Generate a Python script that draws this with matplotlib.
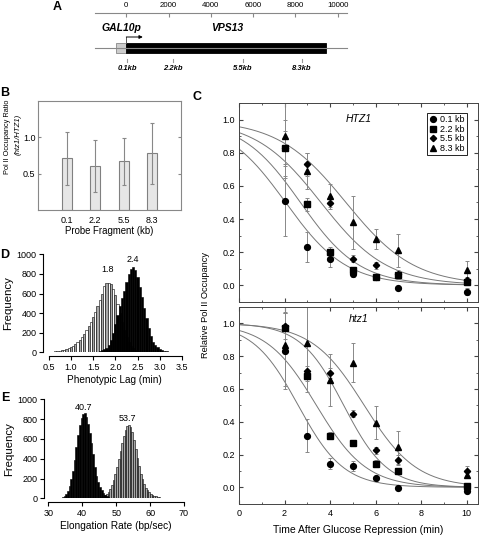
import matplotlib
matplotlib.use("Agg")
import matplotlib.pyplot as plt
import numpy as np
from matplotlib.patches import Rectangle

plt.rcParams["font.family"] = ["Liberation Sans", "DejaVu Sans"]

# =========================
# Hardcoded data
# =========================

# A: gene map (bp)
ruler_ticks = [0, 2000, 4000, 6000, 8000, 10000]
promoter_start = -500
gene_end = 9450
probe_pos = [50, 2200, 5500, 8300]
probe_labels = ["0.1kb", "2.2kb", "5.5kb", "8.3kb"]

# B: Pol II occupancy ratio
fragments = ["0.1", "2.2", "5.5", "8.3"]
ratio = [0.71, 0.61, 0.67, 0.78]
ratio_err = [0.36, 0.36, 0.32, 0.42]

# C: relative Pol II occupancy time courses
times = [2, 3, 4, 5, 6, 7, 10]
series_labels = ["0.1 kb", "2.2 kb", "5.5 kb", "8.3 kb"]

htz1_wt = [
    [0.51, 0.23, 0.16, 0.07, 0.05, -0.02, -0.04],
    [0.83, 0.49, 0.20, 0.09, 0.05, 0.06, 0.02],
    [0.83, 0.73, 0.50, 0.16, 0.12, 0.07, 0.03],
    [0.90, 0.69, 0.54, 0.38, 0.28, 0.21, 0.09],
]
htz1_wt_err = [
    [0.21, 0.09, 0.05, 0.02, 0.02, 0.01, 0.02],
    [0.17, 0.04, 0.03, 0.02, 0.01, 0.02, 0.01],
    [0.10, 0.07, 0.04, 0.02, 0.02, 0.02, 0.02],
    [0.25, 0.11, 0.07, 0.16, 0.06, 0.10, 0.055],
]
htz1_mut = [
    [0.83, 0.315, 0.145, 0.13, 0.055, -0.005, -0.02],
    [0.97, 0.68, 0.315, 0.27, 0.145, 0.10, 0.01],
    [0.985, 0.71, 0.695, 0.45, 0.225, 0.165, 0.10],
    [0.865, 0.88, 0.655, 0.76, 0.395, 0.245, 0.075],
]
htz1_mut_err = [
    [0.23, 0.10, 0.033, 0.03, 0.01, 0.01, 0.01],
    [0.10, 0.03, 0.02, 0.02, 0.02, 0.02, 0.01],
    [0.08, 0.03, 0.03, 0.02, 0.02, 0.03, 0.03],
    [0.25, 0.30, 0.16, 0.12, 0.10, 0.10, 0.02],
]
# fitted sigmoid parameters (midpoint, width)
fit_wt_mid = [2.05, 2.7, 3.6, 4.7]
fit_wt_width = [1.33, 1.3, 1.45, 1.5]
fit_mut_mid = [2.6, 3.4, 4.6, 5.5]
fit_mut_width = [1.0, 1.1, 0.95, 1.15]

# D: phenotypic lag bootstrap histograms (bin width 0.05)
lag_bin = 0.05
lag_wt_start = 0.425
lag_wt_counts = [3, 4, 5, 7, 9, 12, 16, 22, 28, 35, 42, 55, 68, 85, 105, 130,
                 160, 190, 225, 265, 310, 360, 410, 470, 530, 600, 680, 710,
                 710, 700, 650, 580, 490, 400, 310, 230, 160, 105, 65, 40, 22, 12]
lag_mut_start = 1.475
lag_mut_counts = [3, 5, 8, 12, 20, 30, 45, 70, 130, 200, 290, 380, 470, 550,
                  630, 720, 800, 850, 870, 840, 770, 670, 560, 450, 350, 250,
                  165, 110, 75, 50, 35, 22, 15, 9, 5, 2]
lag_peaks = ["1.8", "2.4"]

# E: elongation rate bootstrap histograms (bin width 0.5)
rate_bin = 0.5
rate_mut_start = 32.0
rate_mut_counts = [2, 3, 5, 8, 15, 25, 45, 75, 120, 190, 280, 390, 520, 640,
                   740, 810, 850, 860, 820, 750, 660, 560, 450, 320, 230, 160,
                   110, 80, 55, 35, 22, 14, 8, 5, 3, 2]
rate_wt_start = 44.0
rate_wt_counts = [3, 5, 8, 12, 20, 30, 45, 65, 95, 135, 185, 245, 320, 400,
                  480, 560, 630, 690, 730, 740, 720, 670, 590, 500, 410, 325,
                  250, 190, 140, 105, 80, 60, 45, 35, 26, 20, 15, 11, 8, 6,
                  5, 4, 3, 2, 2, 1, 1, 1]
rate_peaks = ["40.7", "53.7"]

# =========================
# Plot
# =========================

W, H = 481, 537
fig = plt.figure(figsize=(W / 100, H / 100), dpi=100)


def px_axes(left, top, right, bottom):
    return fig.add_axes([left / W, 1 - bottom / H, (right - left) / W, (bottom - top) / H])


TICK_FS = 6.5
LABEL_FS = 7.3

# ---- panel A ----
axA = px_axes(95, 13, 347, 75)
axA.set_xlim(-1481, 10440)
axA.set_ylim(75, 13)
for s in ["left", "right", "bottom"]:
    axA.spines[s].set_visible(False)
axA.spines["top"].set_color("#888888")
axA.spines["top"].set_linewidth(0.8)
axA.xaxis.tick_top()
axA.set_xticks(ruler_ticks)
axA.tick_params(axis="x", direction="in", length=3, color="#888888", labelsize=5.7, pad=3)
axA.set_yticks([])
axA.patch.set_visible(False)

axA.plot([-1481, 10440], [48, 48], color="#888888", lw=0.8, clip_on=False)
axA.add_patch(Rectangle((promoter_start, 42.7), -promoter_start, 10.3,
                        facecolor="#cccccc", edgecolor="#888888", lw=0.6))
axA.add_patch(Rectangle((0, 42.7), gene_end, 10.3, facecolor="black", edgecolor="black", lw=0.6))
axA.plot([0, 0], [42.7, 37], color="#555555", lw=0.7)
axA.annotate("", xy=(780, 37), xytext=(0, 37),
             arrowprops=dict(arrowstyle="-|>", color="black", lw=0.7,
                             mutation_scale=5, shrinkA=0, shrinkB=0))
axA.text(-220, 28, "GAL10p", ha="center", va="center", fontsize=7.5,
         style="italic", weight="bold")
axA.text(4750, 28, "VPS13", ha="center", va="center", fontsize=7.5,
         style="italic", weight="bold")
for p, lab in zip(probe_pos, probe_labels):
    axA.plot([p, p], [58.5, 61.5], color="#999999", lw=0.8)
    axA.text(p, 69, lab, ha="center", va="center", fontsize=5.5,
             style="italic", weight="bold")

# ---- panel B ----
axB = px_axes(38.3, 101, 180.7, 210)
xb = np.arange(1, len(fragments) + 1)
axB.bar(xb, ratio, width=0.35, color="#e6e6e6", edgecolor="#808080", lw=0.8, zorder=2)
axB.errorbar(xb, ratio, yerr=ratio_err, fmt="none", ecolor="#888888",
             elinewidth=0.8, capsize=1.2, capthick=0.8, zorder=3)
axB.set_xlim(0, 5)
axB.set_ylim(0, 1.5)
axB.set_xticks(xb)
axB.set_xticklabels(fragments)
axB.set_yticks([0.5, 1.0])
axB.tick_params(axis="y", direction="in", length=2.5, color="#888888",
                labelsize=TICK_FS, right=True, pad=2)
axB.tick_params(axis="x", length=0, labelsize=TICK_FS, pad=4)
for s in axB.spines.values():
    s.set_color("#888888")
    s.set_linewidth(0.8)
axB.set_xlabel("Probe Fragment (kb)", fontsize=6.9, labelpad=1)
fig.text(8 / W, 1 - 137 / H, "Pol II Occupancy Ratio", rotation=90,
         ha="center", va="center", fontsize=5.3)
fig.text(18 / W, 1 - 134 / H, "(htz1/HTZ1)", rotation=90,
         ha="center", va="center", fontsize=5.6, style="italic")

# ---- panel C ----
markers = ["o", "s", "D", "^"]
msizes = [4.2, 3.8, 3.2, 4.3]
tfit = np.linspace(0, 10, 200)


def panel_c(ax, data, errs, mids, widths, title, title_y, show_x):
    for m, w in zip(mids, widths):
        ax.plot(tfit, 1 / (1 + np.exp((tfit - m) / w)), color="#777777", lw=0.7, zorder=1)
    for vals, err in zip(data, errs):
        ax.errorbar(times, vals, yerr=err, fmt="none", ecolor="#888888",
                    elinewidth=0.7, capsize=1.5, capthick=0.7, zorder=2)
    for vals, mk, ms, lab in zip(data, markers, msizes, series_labels):
        ax.plot(times, vals, mk, color="black", ms=ms, ls="none", label=lab, zorder=3)
    ax.set_xlim(0, 10.5)
    ax.set_ylim(-0.1, 1.1)
    ax.set_xticks([0, 2, 4, 6, 8, 10])
    ax.set_xticks(np.arange(1, 11, 2), minor=True)
    ax.set_yticks([0.0, 0.2, 0.4, 0.6, 0.8, 1.0])
    ax.set_yticks(np.arange(-0.1, 1.11, 0.2), minor=True)
    ax.tick_params(which="both", direction="in", top=True, right=True,
                   labelsize=TICK_FS, color="#444444")
    ax.tick_params(which="major", length=3)
    ax.tick_params(which="minor", length=1.5)
    ax.tick_params(axis="y", pad=3)
    if not show_x:
        ax.tick_params(axis="x", labelbottom=False)
    for s in ax.spines.values():
        s.set_color("#444444")
        s.set_linewidth(0.7)
    ax.text(5.25, title_y, title, ha="center", va="center", fontsize=7.5, style="italic")


axC1 = px_axes(239, 103.3, 478, 301.7)
panel_c(axC1, htz1_wt, htz1_wt_err, fit_wt_mid, fit_wt_width, "HTZ1", 1.005, False)
axC1.legend(loc="upper right", bbox_to_anchor=(0.955, 0.95), borderaxespad=0,
            fontsize=TICK_FS, frameon=True, fancybox=False, edgecolor="black",
            framealpha=1, handlelength=0.8, handletextpad=0.4, labelspacing=0.05,
            borderpad=0.25, numpoints=1).get_frame().set_linewidth(0.6)

axC2 = px_axes(239, 306.9, 478, 503.7)
panel_c(axC2, htz1_mut, htz1_mut_err, fit_mut_mid, fit_mut_width, "htz1", 1.024, True)
axC2.set_xlabel("Time After Glucose Repression (min)", fontsize=7.5, labelpad=5)
fig.text(206 / W, 1 - 305 / H, "Relative Pol II Occupancy", rotation=90,
         ha="center", va="center", fontsize=6.7)


# ---- panels D and E ----
def r_style(ax, xb_lo, xb_hi, xticks):
    for s in ["top", "right"]:
        ax.spines[s].set_visible(False)
    ax.spines["bottom"].set_position(("outward", 3))
    ax.spines["bottom"].set_bounds(xb_lo, xb_hi)
    ax.spines["left"].set_bounds(0, 1000)
    ax.set_xticks(xticks)
    ax.set_yticks([0, 200, 400, 600, 800, 1000])
    ax.tick_params(direction="out", length=3, labelsize=TICK_FS, pad=2, width=0.8)
    for s in ["bottom", "left"]:
        ax.spines[s].set_linewidth(0.8)
    ax.set_ylabel("Frequency", fontsize=8.2, labelpad=2)
    ax.patch.set_visible(False)


axD = px_axes(43.3, 254.3, 186, 352.3)
wt_edges = lag_wt_start + lag_bin * np.arange(len(lag_wt_counts))
mut_edges = lag_mut_start + lag_bin * np.arange(len(lag_mut_counts))
stripe = ["white" if i % 2 == 0 else "#a8a8a8" for i in range(len(lag_wt_counts))]
axD.bar(wt_edges, lag_wt_counts, width=lag_bin, align="edge", color=stripe,
        edgecolor="black", lw=0.4)
axD.bar(mut_edges, lag_mut_counts, width=lag_bin, align="edge", color="black",
        edgecolor="black", lw=0.4)
axD.set_xlim(0.378, 3.59)
axD.set_ylim(0, 1000)
r_style(axD, 0.5, 3.5, [0.5, 1.0, 1.5, 2.0, 2.5, 3.0, 3.5])
axD.set_xlabel("Phenotypic Lag (min)", fontsize=7.2, labelpad=2)
axD.text(1.83, 850, lag_peaks[0], ha="center", va="center", fontsize=TICK_FS)
axD.text(2.40, 952, lag_peaks[1], ha="center", va="center", fontsize=TICK_FS)

axE = px_axes(44.3, 399.3, 187, 498.3)
mut_r_edges = rate_mut_start + rate_bin * np.arange(len(rate_mut_counts))
wt_r_edges = rate_wt_start + rate_bin * np.arange(len(rate_wt_counts))
axE.bar(wt_r_edges, rate_wt_counts, width=rate_bin, align="edge", color="#a8a8a8",
        edgecolor="black", lw=0.4)
axE.bar(mut_r_edges, rate_mut_counts, width=rate_bin, align="edge", color="black",
        edgecolor="black", lw=0.4)
axE.set_xlim(28.82, 70.88)
axE.set_ylim(0, 1000)
r_style(axE, 30, 70, [30, 40, 50, 60, 70])
axE.set_xlabel("Elongation Rate (bp/sec)", fontsize=LABEL_FS, labelpad=2)
axE.text(40.3, 915, rate_peaks[0], ha="center", va="center", fontsize=TICK_FS)
axE.text(53.2, 805, rate_peaks[1], ha="center", va="center", fontsize=TICK_FS)

# panel letters
for lab, x, y in [("A", 57, 7), ("B", 5, 93), ("C", 197, 97), ("D", 5, 255), ("E", 5, 398)]:
    fig.text(x / W, 1 - y / H, lab, ha="center", va="center", fontsize=9, weight="bold")

plt.savefig("out.png", dpi=100)
plt.close(fig)
